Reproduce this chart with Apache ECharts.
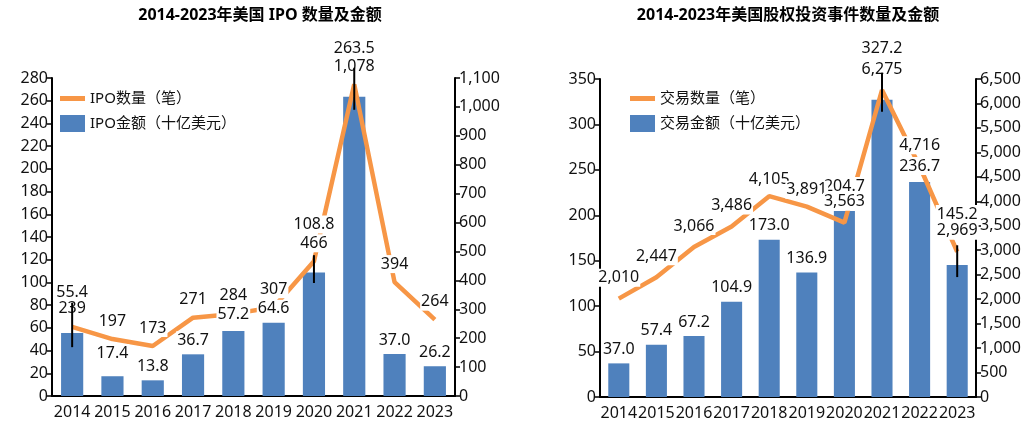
<!DOCTYPE html>
<html><head><meta charset="utf-8">
<script src="https://cdn.jsdelivr.net/npm/echarts@6/dist/echarts.min.js"></script>
<style>html,body{margin:0;padding:0;background:#fff}#c{width:1033px;height:424px}</style>
</head><body><div id="c"></div>
<script>
const years = ['2014','2015','2016','2017','2018','2019','2020','2021','2022','2023'];
const ipoAmount = [55.4, 17.4, 13.8, 36.7, 57.2, 64.6, 108.8, 263.5, 37.0, 26.2];
const ipoCount = [239, 197, 173, 271, 284, 307, 466, 1078, 394, 264];
const peAmount = [37.0, 57.4, 67.2, 104.9, 173.0, 136.9, 204.7, 327.2, 236.7, 145.2];
const peCount = [2010, 2447, 3066, 3486, 4105, 3891, 3563, 6275, 4716, 2969];
// label nudges (px, negative = up)
const ipoAmountNudge = [-27, -9, 0, 0, -3, 0, -34, -34, 0, 0];
const peAmountNudge = [0, 0, 0, 0, 0, 0, -11, -37, -2, -37];
const peCountNudge = [0, 0, 0, 0, 4, 4, 0, 0, 0, 0];
// black leader/error lines: [category index, low, high] on left axis units
const leftLeaders = [[0, 43, 82], [6, 99.5, 124], [7, 252, 289]];
const rightLeaders = [[7, 314, 357], [9, 132, 167]];

const FONT = "'Noto Sans', 'Noto Sans CJK SC', sans-serif";
const ORANGE = '#F79646', BLUE = '#4F81BD', INK = '#111';
const LINE_ICON = 'path://M0,0 L25,0 L25,5 L0,5 Z';
const fmt = v => Number(v).toLocaleString('en-US');
const fmt1 = v => Number(v).toFixed(1);

function xAxis(g){
  return {type:'category', gridIndex:g, data:years,
    axisLine:{lineStyle:{color:'#000', width:2}}, axisTick:{show:false},
    axisLabel:{interval:0, color:INK, fontSize:16, fontFamily:FONT, margin:8}};
}
function yAxis(g, pos, max, interval){
  return {type:'value', gridIndex:g, position:pos, min:0, max:max, interval:interval,
    splitLine:{show:false},
    axisLine:{show:true, lineStyle:{color:'#000', width:2}},
    axisTick:{show:true, length:5, lineStyle:{color:'#000', width:1.5}},
    axisLabel:{color:INK, fontSize:16, fontFamily:FONT, margin:4, formatter:fmt}};
}
function leaderSeries(x, y, data){
  return {type:'custom', xAxisIndex:x, yAxisIndex:y, z:8, silent:true, clip:false,
    data:data, encode:{x:0, y:[1,2]},
    renderItem(params, api){
      const a = api.coord([api.value(0), api.value(1)]);
      const b = api.coord([api.value(0), api.value(2)]);
      return {type:'line', shape:{x1:a[0], y1:a[1], x2:b[0], y2:b[1]}, style:{stroke:'#000', lineWidth:2}};
    }};
}
function labelSeries(x, y, vals, nudges, distance, f){
  return {type:'scatter', xAxisIndex:x, yAxisIndex:y, z:6, silent:true, symbolSize:0,
    itemStyle:{opacity:1},
    data: vals.map((v,i)=>({value:v, label:{offset:[0, nudges ? nudges[i] : 0]}})),
    label:{show:true, position:'top', distance:distance, color:INK, fontSize:16, fontFamily:FONT,
      backgroundColor:'#fff', padding:[0,1,0,1], lineHeight:18, formatter:p=>f(p.value)}};
}
const option = {
  animation:false,
  graphic:[
    {type:'text', x:260, y:15, style:{text:'2014-2023年美国 IPO 数量及金额', fill:'#000', font:"bold 16px 'Noto Sans', 'Noto Sans CJK SC', sans-serif", textAlign:'center', textVerticalAlign:'middle'}},
    {type:'text', x:788, y:15, style:{text:'2014-2023年美国股权投资事件数量及金额', fill:'#000', font:"bold 16px 'Noto Sans', 'Noto Sans CJK SC', sans-serif", textAlign:'center', textVerticalAlign:'middle'}}
  ],
  legend:[
    {left:55, top:86, orient:'vertical', itemWidth:25, itemHeight:17, itemGap:9,
      textStyle:{fontSize:15, color:INK, fontFamily:FONT},
      data:[{name:'IPO数量（笔）', icon:LINE_ICON}, {name:'IPO金额（十亿美元）', icon:'rect'}]},
    {left:625, top:86, orient:'vertical', itemWidth:25, itemHeight:17, itemGap:9,
      textStyle:{fontSize:15, color:INK, fontFamily:FONT},
      data:[{name:'交易数量（笔）', icon:LINE_ICON}, {name:'交易金额（十亿美元）', icon:'rect'}]}
  ],
  grid:[
    {left:52, top:78, width:403, height:318},
    {left:600, top:79, width:376, height:318}
  ],
  xAxis:[xAxis(0), xAxis(1)],
  yAxis:[yAxis(0,'left',280,20), yAxis(0,'right',1100,100), yAxis(1,'left',350,50), yAxis(1,'right',6500,500)],
  series:[
    {name:'IPO金额（十亿美元）', type:'bar', xAxisIndex:0, yAxisIndex:0, z:2, barWidth:'55%', itemStyle:{color:BLUE}, data:ipoAmount},
    {name:'IPO数量（笔）', type:'line', xAxisIndex:0, yAxisIndex:1, z:3, symbol:'none', itemStyle:{color:ORANGE}, lineStyle:{color:ORANGE, width:4.5}, data:ipoCount},
    labelSeries(0, 0, ipoAmount, ipoAmountNudge, 5, fmt1),
    labelSeries(0, 1, ipoCount, null, 9, fmt),
    leaderSeries(0, 0, leftLeaders),
    {name:'交易金额（十亿美元）', type:'bar', xAxisIndex:1, yAxisIndex:2, z:2, barWidth:'56%', itemStyle:{color:BLUE}, data:peAmount},
    {name:'交易数量（笔）', type:'line', xAxisIndex:1, yAxisIndex:3, z:3, symbol:'none', itemStyle:{color:ORANGE}, lineStyle:{color:ORANGE, width:4.5}, data:peCount},
    labelSeries(1, 2, peAmount, peAmountNudge, 5, fmt1),
    labelSeries(1, 3, peCount, peCountNudge, 12, fmt),
    leaderSeries(1, 2, rightLeaders)
  ]
};
const chart = echarts.init(document.getElementById('c'), null, {renderer:'canvas'});
chart.setOption(option);
</script></body></html>
